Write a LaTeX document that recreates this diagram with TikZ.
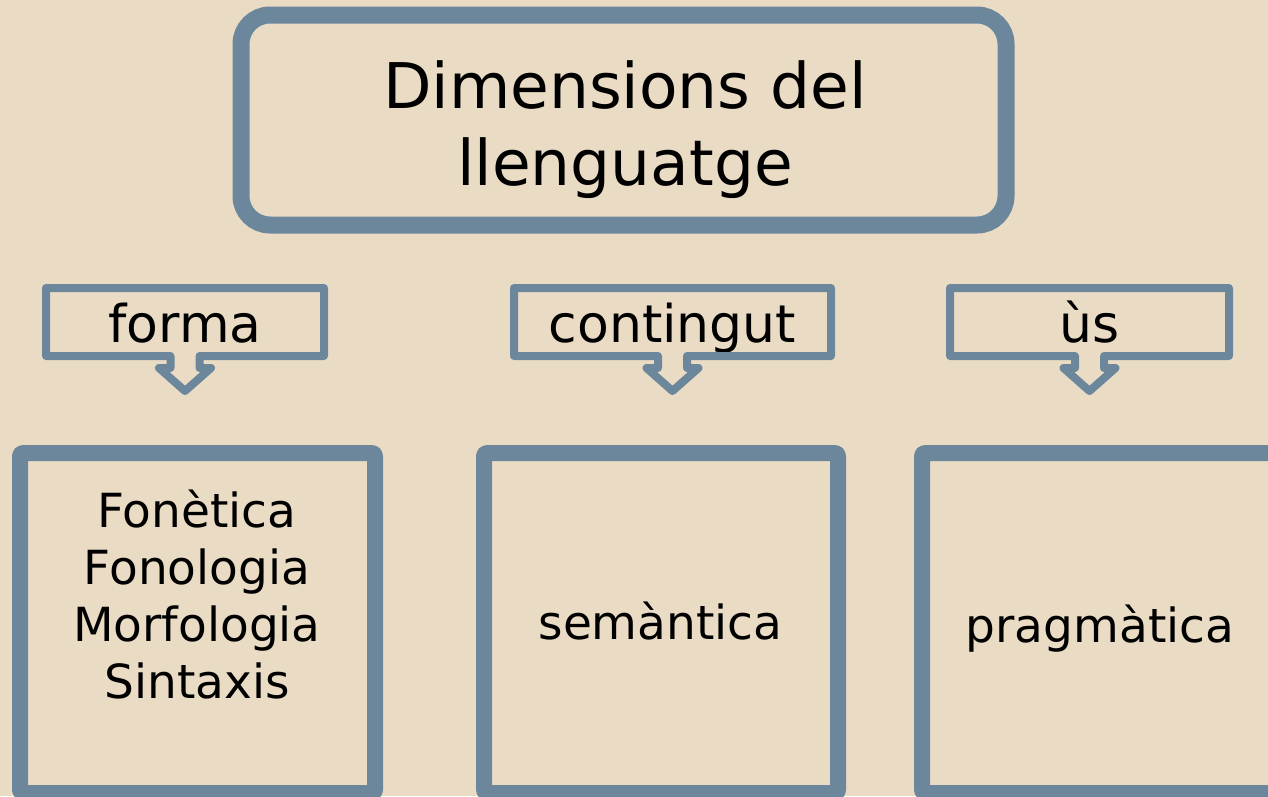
\documentclass[tikz,border=0pt]{standalone}
\usepackage{fontspec}
\setmainfont{DejaVu Sans}
\definecolor{paper}{RGB}{234,220,196}
\definecolor{slate}{RGB}{108,134,155}

\tikzset{
    bigframe/.style={draw=slate, line width=16pt, line join=round, rounded corners=3pt, outer sep=0pt},
    tag/.style={outer sep=0pt, minimum height=68pt, text height=46pt, text depth=6pt, font=\fontsize{52}{60}\selectfont},
    callout/.style={draw=slate, line width=8pt, line join=round}
}

\begin{document}
\begin{tikzpicture}[x=1pt, y=-1pt]
        \useasboundingbox (0,0) rectangle (1268,796);
        \clip (0,0) rectangle (1268,796);
        \fill[paper] (0,0) rectangle (1268,796);

        %title
        \node[draw=slate, line width=17pt, rounded corners=29pt, outer sep=0pt, minimum width=765pt, minimum height=210pt] (titlebox) at (623.5,120) {};
        \node[align=center, font=\fontsize{63}{77}\selectfont] (title) at (625,130) {Dimensions del\\llenguatge};

        %tags
        \node[tag, minimum width=278pt] (forma) at (185,322) {forma};
        \node[tag, minimum width=317pt] (contingut) at (672.5,322) {contingut};
        \node[tag, minimum width=279pt] (us) at (1089.5,322) {ùs};

        \draw[callout] ([xshift=-14.5pt]forma.south) -- (forma.south west) -- (forma.north west) -- (forma.north east) -- (forma.south east) -- ([xshift=14.5pt]forma.south) -- ++(0,12) -- ++(11.5,0) -- ++(-26,23) -- ++(-26,-23) -- ++(11.5,0) -- cycle;
        \draw[callout] ([xshift=-14.5pt]contingut.south) -- (contingut.south west) -- (contingut.north west) -- (contingut.north east) -- (contingut.south east) -- ([xshift=14.5pt]contingut.south) -- ++(0,12) -- ++(11.5,0) -- ++(-26,23) -- ++(-26,-23) -- ++(11.5,0) -- cycle;
        \draw[callout] ([xshift=-14.5pt]us.south) -- (us.south west) -- (us.north west) -- (us.north east) -- (us.south east) -- ([xshift=14.5pt]us.south) -- ++(0,12) -- ++(11.5,0) -- ++(-26,23) -- ++(-26,-23) -- ++(11.5,0) -- cycle;

        %boxes
        \node[bigframe, minimum width=355pt, minimum height=340pt] (formabox) at (197.5,623) {};
        \node[bigframe, minimum width=354pt, minimum height=340pt] (contbox) at (661,623) {};
        \node[bigframe, minimum width=354pt, minimum height=340pt] (usbox) at (1099,623) {};

        %texts
        \node[align=center, font=\fontsize{47}{57}\selectfont] (formatext) at (197,595) {Fonètica\\Fonologia\\Morfologia\\Sintaxis};
        \node[anchor=base, font=\fontsize{47}{57}\selectfont] (conttext) at (660.5,639) {semàntica};
        \node[anchor=base, font=\fontsize{47}{57}\selectfont] (ustext) at (1100,642) {pragmàtica};
    \end{tikzpicture}
\end{document}
